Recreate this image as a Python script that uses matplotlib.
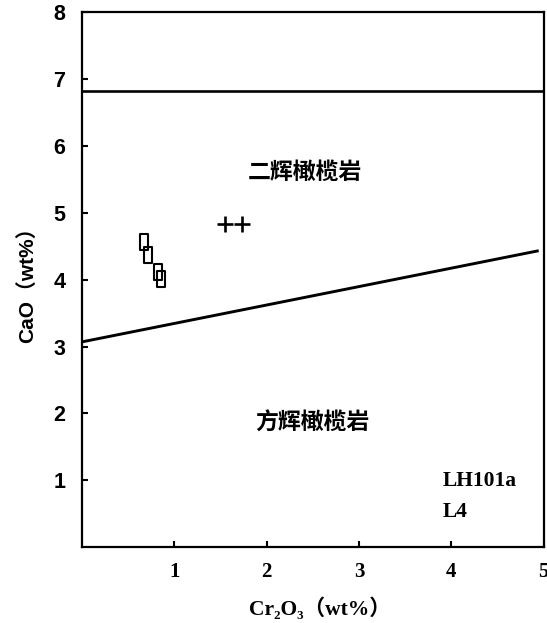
import matplotlib
matplotlib.use("Agg")
import matplotlib.pyplot as plt
from matplotlib.path import Path

# data
sq_x = [0.67, 0.71, 0.82, 0.86]
sq_y = [4.57, 4.37, 4.12, 4.01]
plus_x = [1.55, 1.73]
plus_y = [4.84, 4.84]
hline_x = [0, 5]
hline_y = [6.82, 6.82]
sline_x = [0, 4.93]
sline_y = [3.07, 4.43]
x_ticks = [1, 2, 3, 4, 5]
y_ticks = [1, 2, 3, 4, 5, 6, 7, 8]

fig = plt.figure(figsize=(5.47, 6.23), dpi=100)
ax = fig.add_axes([0.150, 0.122, 0.844, 0.858])
ax.set_xlim(0, 5)
ax.set_ylim(0, 8)

ax.plot(hline_x, hline_y, color='black', lw=1.9)
ax.plot(sline_x, sline_y, color='black', lw=2.1)

rect = Path([(-0.28, -0.5), (0.28, -0.5), (0.28, 0.5), (-0.28, 0.5), (-0.28, -0.5)],
            [Path.MOVETO, Path.LINETO, Path.LINETO, Path.LINETO, Path.CLOSEPOLY])
ax.plot(sq_x, sq_y, ls='none', marker=rect, markersize=11, markerfacecolor='none',
        markeredgecolor='black', markeredgewidth=1.5)
ax.plot(plus_x, plus_y, ls='none', marker='+', markersize=11, color='black',
        markeredgewidth=1.9)

cjk = ['Noto Sans CJK SC', 'DejaVu Sans']
ax.text(2.41, 5.60, '二辉橄榄岩', fontsize=16.5, fontweight='bold', family=cjk,
        ha='center', va='center')
ax.text(2.49, 1.86, '方辉橄榄岩', fontsize=16.5, fontweight='bold', family=cjk,
        ha='center', va='center')
ax.text(3.91, 0.99, 'LH101a', fontsize=15.5, fontweight='bold', family='Liberation Serif',
        ha='left', va='center')
ax.text(3.91, 0.52, 'L4', fontsize=15.5, fontweight='bold', family='Liberation Serif',
        ha='left', va='center')

ax.set_xticks(x_ticks)
ax.set_yticks(y_ticks)
ax.set_xticklabels([str(v) for v in x_ticks], fontsize=15, fontweight='bold',
                   family='Liberation Serif')
ax.set_yticklabels([str(v) for v in y_ticks], fontsize=15.5, fontweight='bold',
                   family='Liberation Sans')
ax.tick_params(direction='in', length=4, width=1.5)
ax.tick_params(axis='x', pad=11)
ax.tick_params(axis='y', pad=12)

for s in ax.spines.values():
    s.set_linewidth(1.6)

ax.set_xlabel('Cr₂O₃（wt%）', fontsize=15.5, fontweight='bold',
              family=['Liberation Serif', 'DejaVu Serif', 'Noto Sans CJK SC'])
ax.xaxis.set_label_coords(0.515, -0.095)
ax.set_ylabel('CaO（wt%）', fontsize=15, fontweight='bold',
              family=['Liberation Sans', 'Noto Sans CJK SC'], labelpad=12)

fig.savefig('out.png', dpi=100)
